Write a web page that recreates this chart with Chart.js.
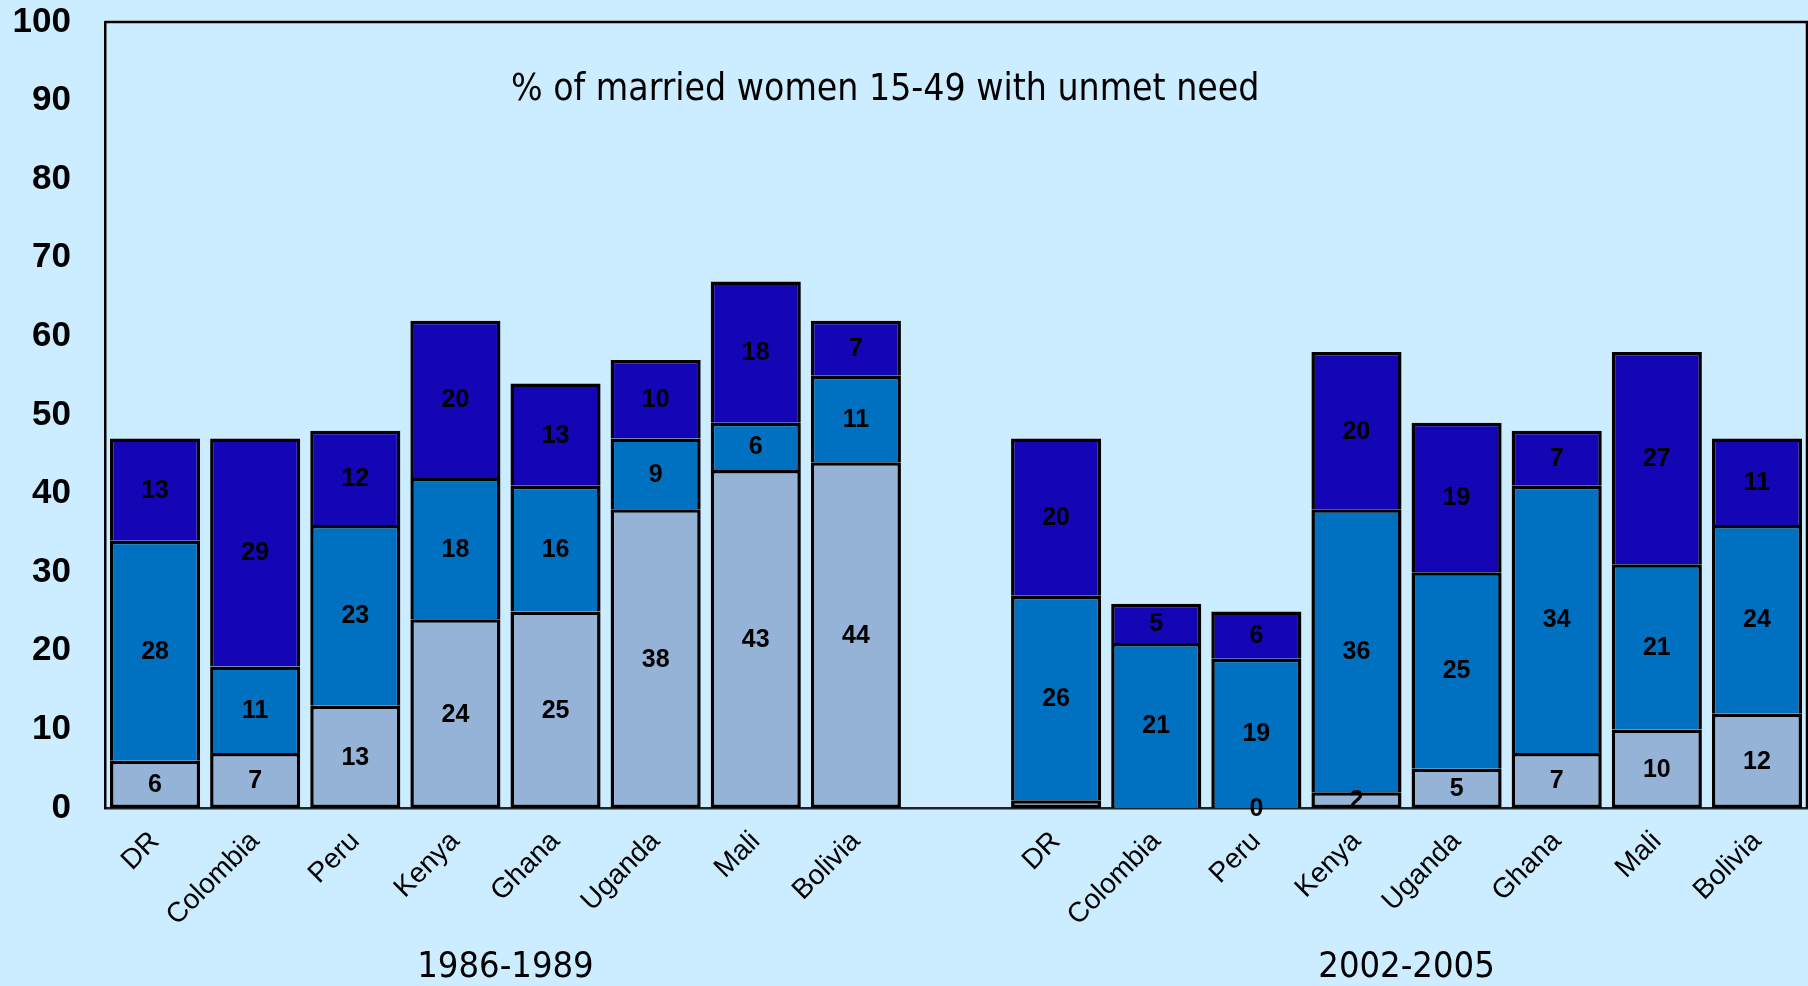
<!DOCTYPE html>
<html><head><meta charset="utf-8">
<script src="https://cdn.jsdelivr.net/npm/chart.js@4.4.1/dist/chart.umd.min.js"></script>
<style>html,body{margin:0;padding:0;background:#CCECFF;} canvas{display:block;}</style>
</head><body>
<canvas id="c" width="1808" height="986"></canvas>
<script>
const categories = ['DR','Colombia','Peru','Kenya','Ghana','Uganda','Mali','Bolivia','','DR','Colombia','Peru','Kenya','Uganda','Ghana','Mali','Bolivia'];
const periodLabels = ['1986-1989','2002-2005'];
const periodRanges = [[0,7],[9,16]];
const bottomSeries = [6,7,13,24,25,38,43,44,null,1,0,0,2,5,7,10,12];
const middleSeries = [28,11,23,18,16,9,6,11,null,26,21,19,36,25,34,21,24];
const topSeries = [13,29,12,20,13,10,18,7,null,20,5,6,20,19,7,27,11];
const hiddenLabels = [[0,9],[0,10]];
const chartTitle = '% of married women 15-49 with unmet need';
const yMin = 0, yMax = 100, yStep = 10;

const valueLabels = {
  id: 'valueLabels',
  afterDatasetsDraw(chart) {
    const ctx = chart.ctx;
    ctx.save();
    ctx.font = 'bold 25px "Liberation Sans", Arial, sans-serif';
    ctx.fillStyle = '#000';
    ctx.textAlign = 'center';
    ctx.textBaseline = 'middle';
    chart.data.datasets.forEach((ds, di) => {
      const meta = chart.getDatasetMeta(di);
      meta.data.forEach((el, i) => {
        const v = ds.data[i];
        if (v === null || v === undefined) return;
        if (hiddenLabels.some(h => h[0] === di && h[1] === i)) return;
        const p = el.getProps(['x','y','base'], true);
        ctx.fillText(String(v), p.x, (p.y + p.base) / 2 + 1);
      });
    });
    ctx.restore();
  }
};

const decorations = {
  id: 'decorations',
  afterDraw(chart) {
    const ctx = chart.ctx, a = chart.chartArea, xs = chart.scales.x;
    ctx.save();
    ctx.strokeStyle = '#000';
    ctx.lineWidth = 2.5;
    ctx.beginPath();
    ctx.moveTo(a.left, a.top);
    ctx.lineTo(a.right, a.top);
    ctx.lineTo(a.right, a.bottom);
    ctx.stroke();
    ctx.fillStyle = '#000';
    ctx.font = '37px "DejaVu Sans Condensed", "DejaVu Sans", sans-serif';
    ctx.textAlign = 'left';
    ctx.textBaseline = 'alphabetic';
    ctx.fillText(chartTitle, 511, 100);
    ctx.font = '36px "DejaVu Sans Condensed", "DejaVu Sans", sans-serif';
    ctx.textAlign = 'center';
    ctx.textBaseline = 'middle';
    periodLabels.forEach((t, k) => {
      const r = periodRanges[k];
      const cx = (xs.getPixelForValue(r[0]) + xs.getPixelForValue(r[1])) / 2;
      ctx.fillText(t, cx, a.bottom + 160);
    });
    ctx.restore();
  }
};

new Chart(document.getElementById('c'), {
  type: 'bar',
  data: {
    labels: categories,
    datasets: [
      { label: 'Lower', data: bottomSeries, backgroundColor: '#95B3D7', borderColor: '#000', borderWidth: 3.5, borderSkipped: false },
      { label: 'Middle', data: middleSeries, backgroundColor: '#0070C0', borderColor: '#000', borderWidth: 3.5, borderSkipped: 'start' },
      { label: 'Upper', data: topSeries, backgroundColor: '#1406B4', borderColor: '#000', borderWidth: 3.5, borderSkipped: 'start' }
    ]
  },
  options: {
    responsive: false,
    devicePixelRatio: 1,
    animation: false,
    barPercentage: 0.9,
    categoryPercentage: 1.0,
    layout: { padding: { top: 22, right: 1, left: 0, bottom: 0 } },
    plugins: { legend: { display: false }, tooltip: { enabled: false }, title: { display: false } },
    scales: {
      x: {
        stacked: true,
        grid: { display: false, drawTicks: false },
        border: { display: true, color: '#222', width: 2.5 },
        ticks: {
          autoSkip: false, minRotation: 45, maxRotation: 45, padding: 17, color: '#000',
          font: { family: '"Liberation Sans", Arial, sans-serif', size: 28 }
        },
        afterFit(scale) { scale.height = 178; }
      },
      y: {
        stacked: true, min: yMin, max: yMax,
        grid: { display: false, drawTicks: true, tickLength: 34 },
        border: { display: true, color: '#000', width: 2.5 },
        ticks: {
          stepSize: yStep, padding: 0, color: '#000',
          font: { family: '"Liberation Sans", Arial, sans-serif', size: 35, weight: 'bold', lineHeight: 1.0 }
        },
        afterFit(scale) { scale.width = 105; }
      }
    }
  },
  plugins: [valueLabels, decorations]
});
</script>
</body></html>
